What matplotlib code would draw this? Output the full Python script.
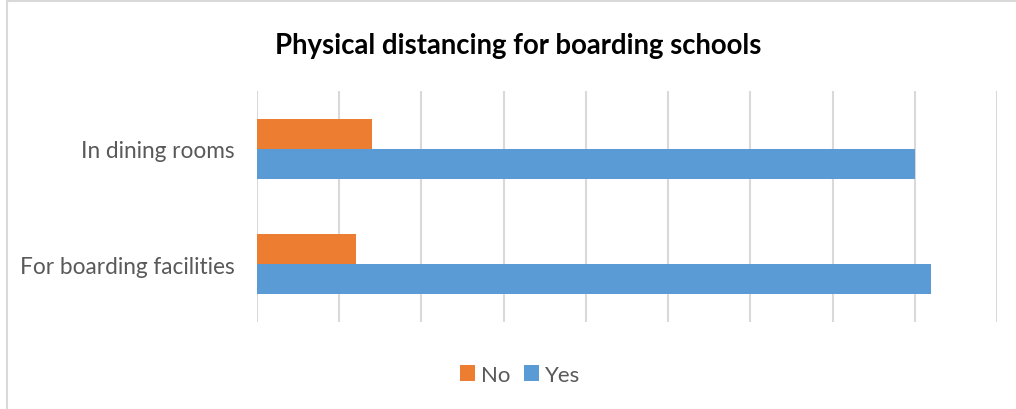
import matplotlib.pyplot as plt
from matplotlib.patches import Rectangle

categories = ['For boarding facilities', 'In dining rooms']
no_values = [6, 7]
yes_values = [41, 40]

plt.rcParams['font.family'] = ['Lato', 'DejaVu Sans']

fig = plt.figure(figsize=(10.16, 4.10), dpi=100)
ax = fig.add_axes([257 / 1016, 1 - 323 / 410, 740 / 1016, 231 / 410])

pos = list(range(len(categories)))
h = 0.26
ax.barh([p + h / 2 for p in pos], no_values, height=h, color='#ED7D31', label='No')
ax.barh([p - h / 2 for p in pos], yes_values, height=h, color='#5B9BD5', label='Yes')

ax.set_xlim(0, 45)
ax.set_ylim(-0.5, 1.5)
ax.set_xticks(range(0, 46, 5))
ax.xaxis.grid(True, color='#D9D9D9', linewidth=1.5)
ax.set_axisbelow(True)
ax.tick_params(axis='x', length=0, labelbottom=False)
ax.set_yticks(pos)
ax.set_yticklabels(categories, fontsize=16.3, color='#595959')
ax.tick_params(axis='y', length=0, pad=16)
for s in ax.spines.values():
    s.set_visible(False)

fig.text(518 / 1016, 1 - 46 / 410, 'Physical distancing for boarding schools',
         ha='center', va='center', fontsize=19.8, fontweight='bold', color='black')

fig.legend(loc='center', bbox_to_anchor=(520 / 1016, 1 - 376 / 410), ncol=2, frameon=False,
           fontsize=16, labelcolor='#595959', handlelength=0.7, handleheight=0.7,
           handletextpad=0.25, columnspacing=0.6)

# outer chart frame
fig.patches.append(Rectangle((6.5 / 1016, -0.1), 1.2, 1 - 1.5 / 410 + 0.1,
                             transform=fig.transFigure, fill=False,
                             edgecolor='#D9D9D9', linewidth=1.5))

fig.savefig('out.png', dpi=100)
